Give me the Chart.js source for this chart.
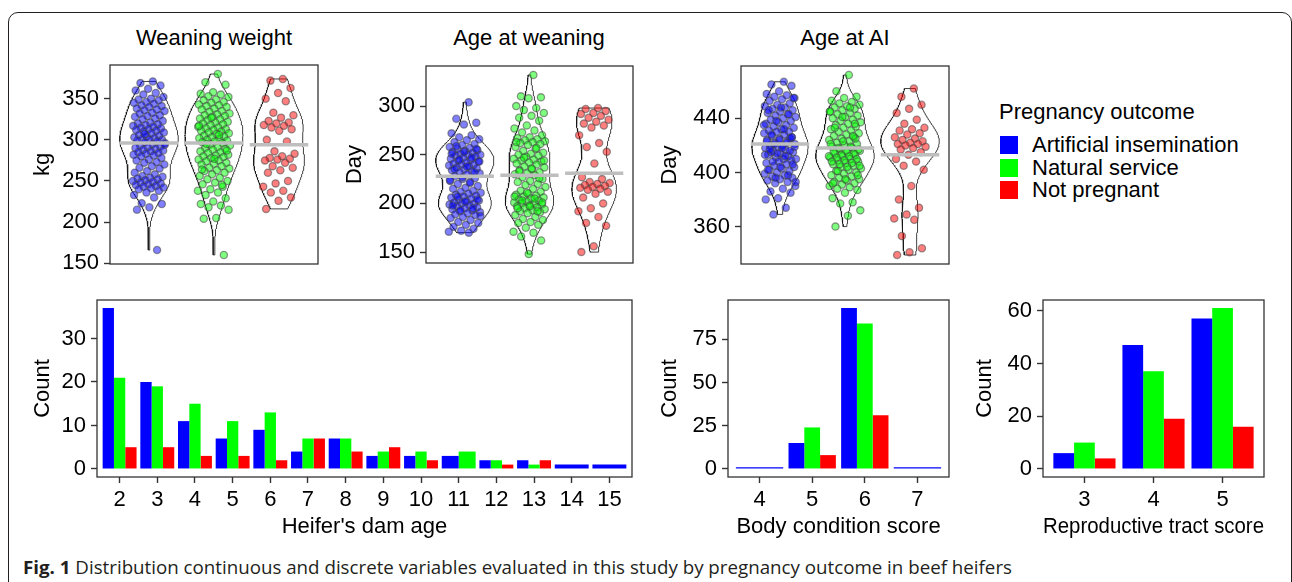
<!DOCTYPE html>
<html>
<head>
<meta charset="utf-8">
<script src="https://cdn.jsdelivr.net/npm/chart.js@4.4.1/dist/chart.umd.min.js"></script>
<style>
  body { margin: 0; background: #fff; font-family: 'Liberation Sans', Arial, Helvetica, sans-serif; }
  #fig { position: relative; width: 1292px; height: 582px; overflow: hidden; background: #fff; }
  .frame { position: absolute; left: 8px; top: 12px; width: 1284px; height: 640px; border: 1.5px solid #231f20; border-radius: 10px; box-sizing: border-box; }
  .cv { position: absolute; }
  .ptitle { position: absolute; font-size: 22px; line-height: 26px; color: #000; transform: translateX(-50%); white-space: nowrap; }
  .legend { position: absolute; left: 999px; top: 99px; font-size: 22px; color: #000; }
  .legend .ttl { line-height: 26px; white-space: nowrap; }
  .legend .row { position: absolute; left: 1px; height: 22px; white-space: nowrap; }
  .legend .key { position: absolute; left: 0; top: 2px; width: 18px; height: 18px; }
  .legend .lab { position: absolute; left: 32px; top: 0; line-height: 22px; }
  .caption { position: absolute; left: 23px; top: 555px; font-family: 'Open Sans', sans-serif; font-size: 17.5px; line-height: 24px; color: #231f20; white-space: nowrap; transform-origin: 0 50%; }
</style>
</head>
<body>
<div id="fig">
  <div class="frame"></div>

  <div class="ptitle" style="left:214px;top:25px">Weaning weight</div>
  <div class="ptitle" style="left:529px;top:25px">Age at weaning</div>
  <div class="ptitle" style="left:845px;top:25px">Age at AI</div>

  <div class="cv" style="left:20px;top:20px;width:310px;height:275px"><canvas id="wwChart" width="310" height="275"></canvas></div>
  <div class="cv" style="left:335px;top:20px;width:310px;height:275px"><canvas id="awChart" width="310" height="275"></canvas></div>
  <div class="cv" style="left:650px;top:20px;width:310px;height:275px"><canvas id="aiChart" width="310" height="275"></canvas></div>

  <div class="legend" id="legend">
    <div class="ttl">Pregnancy outcome</div>
  </div>

  <div class="cv" style="left:30px;top:275px;width:615px;height:265px"><canvas id="damChart" width="615" height="265"></canvas></div>
  <div class="cv" style="left:645px;top:275px;width:315px;height:265px"><canvas id="bcsChart" width="315" height="265"></canvas></div>
  <div class="cv" style="left:960px;top:275px;width:320px;height:265px"><canvas id="rtsChart" width="320" height="265"></canvas></div>

  <div class="caption" id="caption"><b>Fig. 1</b> Distribution continuous and discrete variables evaluated in this study by pregnancy outcome in beef heifers</div>
</div>

<script>
// groups
const groups = ['Artificial insemination', 'Natural service', 'Not pregnant'];
const groupColors = ['#0000ff', '#00ff00', '#ff0000'];
const ptFill = ['rgba(0,0,255,0.5)', 'rgba(0,255,0,0.5)', 'rgba(255,0,0,0.5)'];

// Weaning weight (kg)
const wwAI = [371, 369, 366, 362, 360, 357, 355, 352, 350, 349, 348, 346, 345, 344, 342, 341, 340, 338, 337,
  336, 335, 333, 332, 330, 329, 328, 326, 325, 323, 321, 320, 319, 318, 317, 316, 315, 314, 313, 312, 311, 310,
  309, 308, 306, 305, 304, 303, 302, 301, 300, 300, 299, 298, 297, 296, 295, 293, 292, 291, 290,
  289, 288, 287, 286, 285, 284, 283, 282, 281, 280, 278, 276, 275, 273, 272, 270, 268, 266, 265, 262, 260,
  258, 256, 255, 254, 253, 252, 251, 250, 249, 248, 247, 246, 245, 244, 243, 242, 241, 240,
  238, 236, 233, 230, 223, 222, 218, 215, 166, 307, 294];
const wwNS = [380, 370, 367, 358, 356, 355, 353, 352, 349, 348, 346, 345, 343, 342, 341, 340,
  338, 337, 335, 334, 332, 331, 330, 329, 328, 326, 325, 324, 322, 321, 320,
  319, 318, 316, 315, 314, 313, 312, 311, 310, 309, 308, 307, 305, 304, 303, 302, 301, 300,
  299, 298, 297, 296, 294, 293, 291, 290, 289, 288, 286, 285, 284, 282, 281, 280,
  279, 278, 276, 275, 274, 272, 271, 270, 268, 266, 265, 263, 262, 260, 258, 256, 254, 252, 250,
  248, 246, 243, 240, 238, 236, 233, 229, 225, 222, 220, 218, 215, 205, 204, 160,
  327, 317, 306, 295, 287, 277, 264, 245];
const wwNP = [374, 372, 363, 357, 350, 347, 333, 330, 327, 323, 321, 320, 318, 317, 315, 313, 311, 300, 298,
  286, 283, 280, 278, 277, 276, 275, 272, 268, 266, 263, 260, 250, 247, 243, 238, 236, 230, 226, 216];
const wwMid = [296, 296, 294];
const wwTicks = [150, 200, 250, 300, 350];

// Age at weaning (day)
const awAI = [304, 287, 283, 281, 272, 270, 268, 266, 265, 263, 261, 260, 258, 257, 256, 255, 254, 253, 252, 251, 250, 250,
  249, 248, 247, 246, 245, 244, 243, 242, 241, 240, 240, 239, 238, 237, 236, 235, 234, 233, 232, 231, 230,
  228, 226, 225, 223, 222, 220, 218, 216, 215, 213, 212, 211, 210,
  209, 208, 207, 206, 205, 204, 203, 202, 201, 200, 200, 199, 198, 197, 196, 195, 194, 193, 192, 191, 190,
  189, 188, 186, 185, 183, 181, 180, 178, 176, 174, 172, 171, 170,
  259, 256, 253, 251, 247, 245, 243, 238, 235, 232, 227, 224, 221, 207, 204, 202, 198, 195, 193, 187];
const awNS = [332, 310, 309, 308, 300, 298, 296, 293, 290, 288, 285, 280, 277, 275, 273,
  270, 268, 267, 266, 265, 264, 263, 262, 261, 260, 258, 256, 254, 252, 251, 250,
  249, 248, 246, 245, 244, 243, 242, 241, 240, 238, 237, 235, 234, 232, 231, 230,
  229, 227, 225, 223, 222, 220, 219, 217, 215, 213, 212, 210,
  209, 208, 207, 206, 205, 204, 203, 202, 201, 200, 200, 199, 198, 197, 196, 195, 194, 193, 192, 191, 190,
  188, 186, 184, 183, 181, 180, 178, 175, 171, 170, 166, 162, 148,
  263, 257, 247, 244, 236, 233, 226, 211, 207, 205, 203, 201, 197, 195, 192];
const awNP = [298, 297, 295, 293, 292, 290, 288, 286, 284, 282, 280, 278, 270, 262, 258, 253, 241, 227, 225, 222,
  221, 220, 219, 218, 217, 216, 215, 214, 212, 210, 206, 200, 195, 192, 186, 180, 177, 156, 150];
const awMid = [228, 229, 231];
const awTicks = [150, 200, 250, 300];

// Age at AI (day)
const aiAI = [467, 465, 464, 460, 458, 457, 456, 455, 454, 453, 451, 450, 449, 448, 447, 446, 445, 444, 443, 442, 441, 440,
  439, 438, 437, 436, 435, 434, 433, 432, 431, 430, 430, 429, 428, 427, 426, 425, 424, 423, 422, 421, 420, 420, 425,
  419, 418, 417, 416, 415, 414, 413, 412, 411, 410, 410, 415, 409, 408, 407, 406, 405, 404, 403, 402, 401, 400,
  399, 398, 397, 396, 395, 394, 393, 392, 390, 388, 386, 385, 381, 380, 374, 369,
  455, 448, 446, 443, 438, 435, 432, 428, 426, 424, 423, 422, 421, 419, 418, 417, 416, 414, 413, 412, 408, 406, 404, 402, 398, 396, 393];
const aiNS = [472, 460, 456, 455, 453, 452, 451, 450, 449, 448, 447, 446, 445, 444, 443, 442, 441, 440,
  439, 438, 437, 436, 435, 434, 433, 432, 431, 430, 429, 428, 427, 426, 425, 424, 423, 422, 421, 420,
  419, 418, 417, 416, 415, 414, 413, 412, 411, 410, 409, 408, 407, 406, 405, 404, 403, 402, 401, 400,
  399, 398, 397, 396, 395, 394, 393, 392, 391, 390, 389, 388, 387, 385, 381, 378, 377, 372, 368, 360,
  425, 423, 421, 419, 418, 417, 416, 415, 414, 413, 412, 412, 411, 410, 409, 408, 407, 406, 405, 404,
  433, 436, 441, 445, 448, 401, 398, 395, 392, 427];
const aiNP = [462, 456, 450, 447, 444, 439, 436, 433, 432, 431, 429, 428, 426, 425, 424, 423, 422, 421, 421, 420,
  419, 418, 417, 415, 413, 410, 408, 405, 402, 390, 380, 374, 369, 366, 365, 353, 344, 341, 339];
const aiMid = [421, 418, 413];
const aiTicks = [360, 400, 440];

// Heifer's dam age
const damAge = [2, 3, 4, 5, 6, 7, 8, 9, 10, 11, 12, 13, 14, 15];
const damAI = [37, 20, 11, 7, 9, 4, 7, 3, 3, 3, 2, 2, 1, 1];
const damNS = [21, 19, 15, 11, 13, 7, 7, 4, 4, 4, 2, 1, null, null];
const damNP = [5, 5, 3, 3, 2, 7, 4, 5, 2, null, 1, 2, null, null];
const damTicks = [0, 10, 20, 30];

// Body condition score
const bcsScore = [4, 5, 6, 7];
const bcsAI = [1, 15, 93, 1];
const bcsNS = [null, 24, 84, null];
const bcsNP = [null, 8, 31, null];
const bcsTicks = [0, 25, 50, 75];

// Reproductive tract score
const rtsScore = [3, 4, 5];
const rtsAI = [6, 47, 57];
const rtsNS = [10, 37, 61];
const rtsNP = [4, 19, 16];
const rtsTicks = [0, 20, 40, 60];

Chart.defaults.font.family = "'Liberation Sans', Arial, Helvetica, sans-serif";
Chart.defaults.font.size = 22;
Chart.defaults.color = '#000';
Chart.defaults.animation = false;
Chart.defaults.events = [];
Chart.defaults.plugins.legend.display = false;
Chart.defaults.plugins.tooltip.enabled = false;

// legend (html)
const legendEl = document.getElementById('legend');
groups.forEach((g, i) => {
  const row = document.createElement('div');
  row.className = 'row';
  row.style.top = (35 + i * 22.5) + 'px';
  row.innerHTML = '<div class="key" style="background:' + groupColors[i] + '"></div><div class="lab">' + g + '</div>';
  legendEl.appendChild(row);
});

// panel border drawn on top
const frameBox = {
  id: 'frameBox',
  afterDraw(chart) {
    const { ctx, chartArea: a } = chart;
    ctx.save();
    ctx.strokeStyle = '#333';
    ctx.lineWidth = 1.3;
    ctx.strokeRect(a.left, a.top, a.right - a.left, a.bottom - a.top);
    ctx.restore();
  }
};

function yAxis(min, max, ticks, title, axisW, titlePad) {
  return {
    type: 'linear', min: min, max: max,
    afterBuildTicks: s => { s.ticks = ticks.map(v => ({ value: v })); },
    afterFit: s => { s.width = axisW; },
    grid: { drawOnChartArea: false, drawTicks: true, tickLength: 6, tickColor: '#333', tickWidth: 1.4 },
    border: { display: false },
    ticks: { padding: 5, color: '#000' },
    title: { display: true, text: title, color: '#000', padding: { top: titlePad, bottom: 0 } }
  };
}

// kernel density (gaussian, bw.nrd0), trimmed to data range
function quantile(s, p) {
  const h = (s.length - 1) * p, lo = Math.floor(h);
  const hi = Math.min(lo + 1, s.length - 1);
  return s[lo] + (h - lo) * (s[hi] - s[lo]);
}
function density(v) {
  const n = v.length;
  const mean = v.reduce((a, b) => a + b, 0) / n;
  const sd = Math.sqrt(v.reduce((a, b) => a + (b - mean) * (b - mean), 0) / (n - 1));
  const s = [...v].sort((a, b) => a - b);
  const iqr = quantile(s, 0.75) - quantile(s, 0.25);
  const bw = 0.9 * Math.min(sd, iqr / 1.34) * Math.pow(n, -0.2);
  const lo = s[0], hi = s[n - 1], out = [];
  for (let i = 0; i < 200; i++) {
    const y = lo + (hi - lo) * i / 199;
    let d = 0;
    for (const x of v) { const z = (y - x) / bw; d += Math.exp(-0.5 * z * z); }
    out.push({ y: y, d: d / (n * bw * Math.sqrt(2 * Math.PI)) });
  }
  return out;
}
const jitter = k => ((((k + 1) * 0.6180339887) % 1) - 0.5) * 0.5;

function violinPanel(id, series, mids, ticks, title, pad, axisW, titlePad) {
  const all = series.flat();
  const lo = Math.min(...all), hi = Math.max(...all), ex = (hi - lo) * 0.05;
  const dens = series.map(v => density(v));
  const dMax = Math.max(...dens.flat().map(p => p.d));
  const datasets = [];
  series.forEach((vals, g) => {
    const cx = g + 1;
    const right = dens[g].map(p => ({ x: cx + 0.45 * p.d / dMax, y: p.y }));
    const left = dens[g].map(p => ({ x: cx - 0.45 * p.d / dMax, y: p.y })).reverse();
    datasets.push({
      data: right.concat(left, [right[0]]), showLine: true, pointRadius: 0,
      borderColor: '#111', borderWidth: 0.8, order: 3
    });
    datasets.push({
      data: vals.map((v, k) => ({ x: cx + jitter(k), y: v })),
      pointRadius: 3.6, pointBorderWidth: 1.3,
      backgroundColor: ptFill[g], borderColor: 'rgba(70,70,70,0.55)', order: 2
    });
    datasets.push({
      data: [{ x: cx - 0.45, y: mids[g] }, { x: cx + 0.45, y: mids[g] }], showLine: true, pointRadius: 0,
      borderColor: '#bebebe', borderWidth: 3.5, order: 1
    });
  });
  new Chart(document.getElementById(id), {
    type: 'scatter',
    data: { datasets: datasets },
    options: {
      responsive: false,
      layout: { padding: pad },
      scales: {
        x: { type: 'linear', min: 0.4, max: 3.6, display: false },
        y: yAxis(lo - ex, hi + ex, ticks, title, axisW, titlePad)
      }
    },
    plugins: [frameBox]
  });
}

function barPanel(id, labels, series, ticks, xTitle, pad, axisW, titlePad) {
  const top = Math.max(...series.flat().filter(v => v !== null));
  new Chart(document.getElementById(id), {
    type: 'bar',
    data: {
      labels: labels,
      datasets: series.map((d, g) => ({
        label: groups[g], data: d, backgroundColor: groupColors[g], borderWidth: 0,
        categoryPercentage: 0.9, barPercentage: 1, skipNull: true
      }))
    },
    options: {
      responsive: false,
      layout: { padding: pad },
      scales: {
        x: {
          type: 'linear', offset: false,
          min: labels[0] - 0.6, max: labels[labels.length - 1] + 0.6,
          afterBuildTicks: s => { s.ticks = labels.map(v => ({ value: v })); },
          afterFit: s => { s.height = 63; },
          grid: { offset: false, drawOnChartArea: false, tickLength: 6, tickColor: '#333', tickWidth: 1.4 },
          border: { display: false },
          ticks: { padding: 4, autoSkip: false, maxRotation: 0, color: '#000' },
          title: { display: true, text: xTitle, color: '#000', padding: { top: 0, bottom: 0 } }
        },
        y: yAxis(-top * 0.05, top * 1.05, ticks, 'Count', axisW, titlePad)
      }
    },
    plugins: [frameBox]
  });
}

violinPanel('wwChart', [wwAI, wwNS, wwNP], wwMid, wwTicks, 'kg', { top: 45, right: 12, bottom: 31, left: 0 }, 90, 10);
violinPanel('awChart', [awAI, awNS, awNP], awMid, awTicks, 'Day', { top: 46, right: 12, bottom: 32, left: 0 }, 91, 7);
violinPanel('aiChart', [aiAI, aiNS, aiNP], aiMid, aiTicks, 'Day', { top: 46, right: 11, bottom: 31, left: 0 }, 91, 7);

barPanel('damChart', damAge, [damAI, damNS, damNP], damTicks, "Heifer's dam age", { top: 25, right: 13, bottom: 0, left: 0 }, 67, 0);
barPanel('bcsChart', bcsScore, [bcsAI, bcsNS, bcsNP], bcsTicks, 'Body condition score', { top: 25, right: 11, bottom: 0, left: 0 }, 83, 12);
barPanel('rtsChart', rtsScore, [rtsAI, rtsNS, rtsNP], rtsTicks, 'Reproductive tract score', { top: 25, right: 16, bottom: 0, left: 0 }, 83, 12);

// squeeze the caption to the reference width
const cap = document.getElementById('caption');
const capW = cap.getBoundingClientRect().width;
cap.style.transform = 'scaleX(' + (989 / capW).toFixed(4) + ')';
</script>
</body>
</html>
